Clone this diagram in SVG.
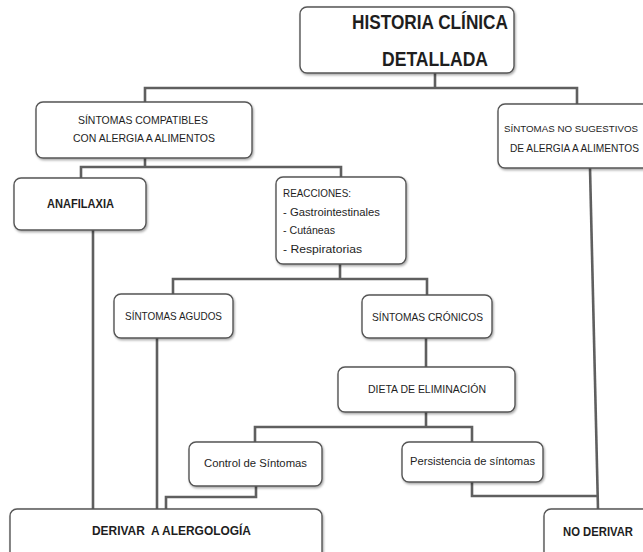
<svg xmlns="http://www.w3.org/2000/svg" width="643" height="552" viewBox="0 0 643 552">
  <defs>
    <filter id="shadow" x="-10%" y="-10%" width="130%" height="140%">
      <feDropShadow dx="1" dy="1.5" stdDeviation="0.8" flood-color="#000" flood-opacity="0.35"/>
    </filter>
  </defs>
  <style>
    .box { fill: #ffffff; stroke: #555555; stroke-width: 1.4; filter: url(#shadow); }
    .link { fill: none; stroke: #5f5f5f; stroke-width: 2.6; stroke-linejoin: miter; }
    text { font-family: "Liberation Sans", Arial, sans-serif; fill: #1e1e1e; }
    .t { font-size: 11.5px; }
    .s { font-size: 10.4px; }
    .b { font-size: 12px; font-weight: bold; }
    .h { font-size: 20px; font-weight: bold; }
  </style>
  <rect width="643" height="552" fill="#ffffff"/>

  <!-- connectors -->
  <g id="connectors">
    <path class="link" d="M435,73 V88"/>
    <path class="link" d="M145,102 V88 H577 V104"/>
    <path class="link" d="M145,158 V167"/>
    <path class="link" d="M81,178 V167 H341 V177"/>
    <path class="link" d="M93,230 V509"/>
    <path class="link" d="M590,168 L598,509"/>
    <path class="link" d="M340,264 V279"/>
    <path class="link" d="M173,294 V279 H427 V295"/>
    <path class="link" d="M157,338 V513"/>
    <path class="link" d="M426,338 V367"/>
    <path class="link" d="M426,412 V427"/>
    <path class="link" d="M255,442 V427 H472 V442"/>
    <path class="link" d="M256,486 V497 H166 V509"/>
    <path class="link" d="M472,482 V496 H597"/>
  </g>

  <g id="historia">
    <rect class="box" x="300" y="7" width="214" height="66" rx="7"/>
    <text class="h" x="430" y="29" text-anchor="middle" textLength="156" lengthAdjust="spacingAndGlyphs">HISTORIA CLÍNICA</text>
    <text class="h" x="435" y="66" text-anchor="middle" textLength="106" lengthAdjust="spacingAndGlyphs">DETALLADA</text>
  </g>

  <g id="compatibles">
    <rect class="box" x="36" y="102" width="216" height="56" rx="7"/>
    <text class="t" x="143" y="124" text-anchor="middle" textLength="130" lengthAdjust="spacingAndGlyphs">SÍNTOMAS COMPATIBLES</text>
    <text class="t" x="144" y="142" text-anchor="middle" textLength="142" lengthAdjust="spacingAndGlyphs">CON ALERGIA A ALIMENTOS</text>
  </g>

  <g id="no-sugestivos">
    <rect class="box" x="498" y="104" width="162" height="64" rx="7"/>
    <text class="s" x="504" y="132" textLength="134" lengthAdjust="spacingAndGlyphs" style="font-size:9.8px">SÍNTOMAS NO SUGESTIVOS</text>
    <text class="s" x="510" y="152" textLength="129" lengthAdjust="spacingAndGlyphs">DE ALERGIA A ALIMENTOS</text>
  </g>

  <g id="anafilaxia">
    <rect class="box" x="14" y="178" width="132" height="52" rx="7"/>
    <text class="b" x="80.5" y="208" text-anchor="middle" textLength="67" lengthAdjust="spacingAndGlyphs">ANAFILAXIA</text>
  </g>

  <g id="reacciones">
    <rect class="box" x="276" y="177" width="130" height="87" rx="7"/>
    <text class="t" x="283" y="197" textLength="68" lengthAdjust="spacingAndGlyphs">REACCIONES:</text>
    <text class="t" x="283" y="216" textLength="97" lengthAdjust="spacingAndGlyphs">- Gastrointestinales</text>
    <text class="t" x="283" y="234" textLength="52" lengthAdjust="spacingAndGlyphs">- Cutáneas</text>
    <text class="t" x="283" y="253" textLength="79" lengthAdjust="spacingAndGlyphs">- Respiratorias</text>
  </g>

  <g id="agudos">
    <rect class="box" x="114" y="294" width="119" height="44" rx="7"/>
    <text class="t" x="173.5" y="320" text-anchor="middle" textLength="97" lengthAdjust="spacingAndGlyphs">SÍNTOMAS AGUDOS</text>
  </g>

  <g id="cronicos">
    <rect class="box" x="362" y="295" width="130" height="43" rx="7"/>
    <text class="t" x="427.5" y="321" text-anchor="middle" textLength="111" lengthAdjust="spacingAndGlyphs">SÍNTOMAS CRÓNICOS</text>
  </g>

  <g id="dieta">
    <rect class="box" x="338" y="367" width="177" height="45" rx="7"/>
    <text class="t" x="427" y="393" text-anchor="middle" textLength="118" lengthAdjust="spacingAndGlyphs">DIETA DE ELIMINACIÓN</text>
  </g>

  <g id="control">
    <rect class="box" x="189" y="442" width="133" height="44" rx="7"/>
    <text class="t" x="255.5" y="467" text-anchor="middle" textLength="103" lengthAdjust="spacingAndGlyphs">Control de Síntomas</text>
  </g>

  <g id="persistencia">
    <rect class="box" x="402" y="442" width="141" height="40" rx="7"/>
    <text class="t" x="472.5" y="465" text-anchor="middle" textLength="125" lengthAdjust="spacingAndGlyphs">Persistencia de síntomas</text>
  </g>

  <g id="derivar">
    <rect class="box" x="10" y="509" width="312" height="52" rx="7"/>
    <text class="b" x="171.5" y="535" text-anchor="middle" textLength="159" lengthAdjust="spacingAndGlyphs" xml:space="preserve">DERIVAR  A ALERGOLOGÍA</text>
  </g>

  <g id="no-derivar">
    <rect class="box" x="544" y="509" width="112" height="52" rx="7"/>
    <text class="b" x="598" y="536" text-anchor="middle" textLength="70" lengthAdjust="spacingAndGlyphs">NO DERIVAR</text>
  </g>
</svg>
